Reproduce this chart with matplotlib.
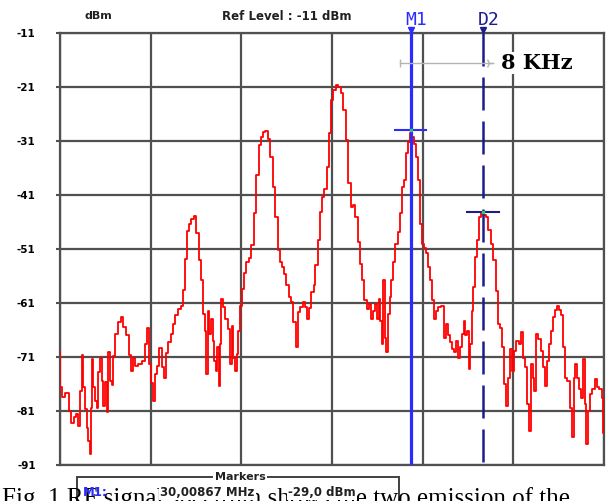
import matplotlib
matplotlib.use("Agg")
import matplotlib.pyplot as plt
import matplotlib.transforms as mtransforms
from matplotlib.patches import Rectangle

# ---------------- data ----------------
F_LEFT_MHZ = 29.97          # left edge of the span
SPAN_KHZ = 60

# trace: frequency offset from left edge (kHz) and level (dBm)
freq_khz = [
    0.00, 0.11, 0.30, 0.91, 1.13, 1.40, 1.65, 1.87, 2.09, 2.31,
    2.50, 2.68, 2.86, 3.05, 3.23, 3.34, 3.41, 3.60, 3.78, 3.96,
    4.15, 4.33, 4.51, 4.70, 4.88, 5.06, 5.25, 5.43, 5.61, 5.80,
    5.98, 6.24, 6.53, 6.83, 7.16, 7.45, 7.71, 7.89, 8.11, 8.40,
    8.77, 9.21, 9.50, 9.72, 9.94, 10.16, 10.38, 10.60, 10.82, 11.12,
    11.34, 11.59, 11.81, 12.08, 12.33, 12.58, 12.88, 13.18, 13.46, 13.68,
    13.87, 14.06, 14.34, 14.61, 14.86, 15.16, 15.45, 15.71, 15.89, 16.07,
    16.18, 16.37, 16.55, 16.73, 16.92, 17.10, 17.28, 17.43, 17.58, 17.72,
    17.87, 18.09, 18.39, 18.64, 18.83, 19.01, 19.19, 19.38, 19.56, 19.78,
    20.00, 20.22, 20.40, 20.66, 20.95, 21.25, 21.50, 21.77, 22.02, 22.27,
    22.54, 22.79, 23.09, 23.34, 23.59, 23.89, 24.14, 24.36, 24.58, 24.85,
    25.10, 25.35, 25.62, 25.87, 26.09, 26.31, 26.61, 26.90, 27.12, 27.34,
    27.56, 27.85, 28.07, 28.29, 28.55, 28.81, 29.03, 29.28, 29.54, 29.80,
    30.02, 30.28, 30.57, 30.86, 31.12, 31.38, 31.67, 31.96, 32.22, 32.48,
    32.70, 32.95, 33.21, 33.43, 33.69, 33.94, 34.16, 34.43, 34.68, 34.90,
    35.12, 35.26, 35.42, 35.56, 35.70, 35.89, 36.08, 36.25, 36.44, 36.63,
    36.88, 37.10, 37.35, 37.62, 37.84, 38.06, 38.28, 38.50, 38.72, 38.94,
    39.16, 39.38, 39.60, 39.82, 40.00, 40.22, 40.44, 40.66, 40.92, 41.14,
    41.39, 41.61, 41.87, 42.24, 42.42, 42.68, 42.90, 43.12, 43.34,
    43.56, 43.78, 44.04, 44.26, 44.44, 44.62, 44.81, 44.99, 45.17, 45.32,
    45.50, 45.69, 45.87, 46.09, 46.27, 46.53, 46.79, 47.09, 47.34, 47.64,
    47.89, 48.19, 48.44, 48.69, 48.91, 49.10, 49.29, 49.51, 49.73, 49.95,
    50.20, 50.45, 50.75, 50.97, 51.19, 51.41, 51.63, 51.85, 52.04, 52.22,
    52.40, 52.66, 52.88, 53.14, 53.39, 53.61, 53.87, 54.05, 54.27, 54.49,
    54.71, 54.90, 55.15, 55.38, 55.60, 55.82, 56.07, 56.33, 56.55, 56.73,
    56.92, 57.14, 57.36, 57.54, 57.76, 57.94, 58.16, 58.35, 58.57, 58.82,
    59.09, 59.34, 59.59, 59.86, 60.00,
]
level_dbm = [
    -69.8, -76.6, -78.4, -77.6, -81.0, -83.2, -82.2, -81.6, -83.8, -77.3,
    -70.6, -76.6, -80.6, -84.1, -86.6, -88.9, -80.4, -71.3, -76.6, -79.1,
    -80.4, -73.7, -71.1, -75.4, -80.1, -75.7, -81.1, -70.0, -75.4, -76.2,
    -70.8, -66.7, -64.6, -63.6, -65.4, -66.9, -70.6, -73.5, -71.1, -72.6,
    -72.3, -71.8, -68.5, -65.6, -72.3, -75.9, -79.1, -74.2, -72.6, -69.3,
    -72.9, -74.9, -70.2, -68.3, -66.7, -64.9, -63.3, -62.1, -61.5, -58.5,
    -52.8, -47.7, -46.3, -45.4, -44.8, -48.1, -53.1, -56.8, -63.0, -66.1,
    -74.2, -62.4, -66.7, -63.9, -68.0, -71.7, -73.5, -69.2, -76.3, -68.6,
    -60.2, -61.8, -63.9, -65.8, -72.3, -65.2, -71.1, -73.5, -70.4, -66.1,
    -61.5, -58.4, -55.5, -53.4, -52.6, -50.3, -44.4, -37.3, -31.7, -30.2,
    -29.4, -29.1, -30.7, -34.0, -39.5, -45.1, -51.2, -53.4, -54.3, -55.6,
    -57.7, -59.8, -60.9, -64.6, -69.2, -62.7, -61.8, -60.9, -61.8, -63.9,
    -61.9, -59.0, -57.7, -54.0, -49.4, -44.1, -41.3, -39.8, -35.8, -29.6,
    -23.4, -21.6, -20.6, -21.0, -22.1, -25.2, -30.8, -38.8, -43.3, -42.9,
    -45.1, -49.7, -53.7, -56.8, -60.5, -62.1, -61.2, -63.9, -62.4, -61.2,
    -63.9, -60.2, -64.3, -68.6, -56.8, -67.4, -70.1, -63.0, -59.9, -56.8,
    -53.4, -50.0, -47.8, -44.4, -39.5, -38.2, -33.3, -31.1, -29.6, -30.3,
    -31.5, -34.0, -38.2, -46.3, -50.0, -50.9, -51.7, -54.3, -56.8, -60.5,
    -63.9, -62.4, -61.8, -61.5, -67.4, -64.9, -67.0, -68.3, -69.5,
    -70.1, -68.0, -71.1, -69.2, -66.7, -64.3, -67.0, -66.1, -73.2, -68.6,
    -62.4, -58.1, -52.5, -49.4, -45.1, -44.4, -44.7, -45.1, -47.5, -50.1,
    -53.1, -58.7, -64.9, -65.6, -69.2, -76.0, -80.1, -74.8, -69.5, -73.5,
    -69.8, -68.0, -68.5, -66.4, -71.1, -72.9, -79.7, -84.7, -72.3, -74.8,
    -77.3, -66.7, -67.7, -69.8, -72.9, -76.3, -71.7, -68.6, -66.1, -63.6,
    -62.3, -61.5, -62.3, -63.3, -69.2, -74.8, -75.4, -80.4, -85.9, -74.8,
    -72.3, -74.8, -77.0, -78.5, -71.4, -79.7, -87.2, -81.0, -77.9, -77.0,
    -75.1, -76.6, -77.0, -78.5, -85.0,
]

y_ticks = [-11, -21, -31, -41, -51, -61, -71, -81, -91]
x_grid_khz = [0, 10, 20, 30, 40, 50, 60]

ref_level_text = "Ref Level : -11 dBm"
unit_text = "dBm"
m1_label = "M1"
d2_label = "D2"
m1_freq_mhz = 30.00867
m1_level = -29.0
d2_delta_khz = 8
d2_level = -44.2
delta_text = "8 KHz"
markers_title = "Markers"
m1_freq_text = "30,00867 MHz"
m1_level_text = "-29,0 dBm"
caption = "Fig. 1 RF signal spectrum shows the two emission of the"

# ---------------- figure ----------------
W, H = 606, 501
fig = plt.figure(figsize=(W / 100, H / 100), dpi=100)
fig.patch.set_facecolor("white")
ax = fig.add_axes([60 / W, 1 - 465 / H, 544 / W, 432 / H])

GRID = "#505050"
M1C = "#2b2bff"
D2C = "#1c1c8c"

ax.set_xlim(0, SPAN_KHZ)
ax.set_ylim(y_ticks[-1], y_ticks[0])
ax.set_xticks(x_grid_khz)
ax.set_yticks(y_ticks)
ax.set_yticklabels([str(v) for v in y_ticks], fontsize=7.5, fontweight="bold")
ax.tick_params(axis="x", length=0, labelbottom=False)
ax.tick_params(axis="y", length=3, width=1.5, color=GRID, pad=14.5)
ax.grid(True, color=GRID, lw=1.6, zorder=1)
for s in ax.spines.values():
    s.set_color(GRID)
    s.set_linewidth(1.6)
ax.set_axisbelow(True)

# trace
ax.plot(freq_khz, level_dbm, color="#ff0000", lw=1.3, drawstyle="steps-mid",
        zorder=3)

m1_x = (m1_freq_mhz - F_LEFT_MHZ) * 1000
d2_x = m1_x + d2_delta_khz

# marker lines
ax.plot([m1_x, m1_x], [y_ticks[0], y_ticks[-1]], color=M1C, lw=2.3, zorder=4)
d2_line, = ax.plot([d2_x, d2_x], [y_ticks[0], y_ticks[-1]], color=D2C, lw=1.8,
                   zorder=4)
d2_line.set_dashes([33 * 0.72 / 1.8, 11 * 0.72 / 1.8])

# marker level bars
ax.plot([m1_x - 1.75, m1_x + 1.75], [m1_level, m1_level], color=M1C, lw=1.5,
        zorder=5)
ax.plot([d2_x - 1.75, d2_x + 1.75], [d2_level, d2_level], color=D2C, lw=1.5,
        zorder=5)
ax.plot([m1_x], [m1_level], "s", color="#33cc66", ms=2, zorder=6)
ax.plot([d2_x], [d2_level], "s", color="#33cc66", ms=2, zorder=6)

# marker triangles and labels above the plot
tri = mtransforms.offset_copy(ax.transData, fig=fig, y=3.5, units="dots")
ax.plot([m1_x], [y_ticks[0]], "v", color=M1C, ms=5, transform=tri,
        clip_on=False, zorder=6)
ax.plot([d2_x], [y_ticks[0]], "v", color=D2C, ms=5, transform=tri,
        clip_on=False, zorder=6)
for x, lab, c in [(m1_x, m1_label, M1C), (d2_x, d2_label, D2C)]:
    ax.annotate(lab, xy=(x, y_ticks[0]), xytext=(-4, 6), textcoords="offset points",
                ha="left", va="baseline", color=c, fontsize=13,
                family="DejaVu Sans Mono", annotation_clip=False)

# delta annotation (dimension line between the two markers)
dim = mtransforms.offset_copy(ax.transData, fig=fig, y=-30, units="dots")
ax.plot([m1_x - 1.2, d2_x + 1.0], [y_ticks[0], y_ticks[0]], color="#b4b4b4",
        lw=1.0, transform=dim, zorder=5)
ax.plot([m1_x - 1.2], [y_ticks[0]], marker="|", ms=6, color="#b4b4b4",
        transform=dim, zorder=5)
ax.plot([d2_x + 0.7], [y_ticks[0]], marker="4", ms=7, mew=1.0, color="#b4b4b4",
        transform=dim, zorder=5)
ax.annotate(delta_text, xy=(d2_x, y_ticks[0]), xytext=(13, -21.6),
            textcoords="offset points", ha="left", va="center",
            fontsize=15, fontweight="bold", family="DejaVu Serif",
            color="black", zorder=7,
            bbox=dict(boxstyle="square,pad=0.05", fc="white", ec="none"))

# top texts
fig.text(98 / W, 1 - 16 / H, unit_text, ha="center", va="center",
         fontsize=8, fontweight="bold", color="#202020")
fig.text(287 / W, 1 - 16 / H, ref_level_text, ha="center", va="center",
         fontsize=8.5, fontweight="bold", color="#202020")

# caption (partly cut by the figure edge)
fig.text(2 / W, 1 - 487 / H, caption, ha="left", va="top", fontsize=18,
         family="Liberation Serif", color="black")

# markers box
fig.patches.append(Rectangle((77 / W, -0.05), (399 - 77) / W, 0.05 + 1 - 477 / H,
                             transform=fig.transFigure, fill=False,
                             ec="#404040", lw=1.4))
fig.text(240 / W, 1 - 477 / H, markers_title, ha="center", va="center",
         fontsize=8, fontweight="bold", color="#202020",
         bbox=dict(boxstyle="square,pad=0.15", fc="white", ec="none"))
fig.text(83 / W, 1 - 492 / H, m1_label + ":", ha="left", va="center",
         fontsize=8.5, fontweight="bold", color=M1C)
fig.text(160 / W, 1 - 492 / H, m1_freq_text, ha="left", va="center",
         fontsize=8.5, fontweight="bold", color="#202020",
         bbox=dict(boxstyle="square,pad=0.1", fc="white", ec="none"))
fig.text(288 / W, 1 - 492 / H, m1_level_text, ha="left", va="center",
         fontsize=8.5, fontweight="bold", color="#202020",
         bbox=dict(boxstyle="square,pad=0.1", fc="white", ec="none"))

fig.savefig("out.png", dpi=100)
